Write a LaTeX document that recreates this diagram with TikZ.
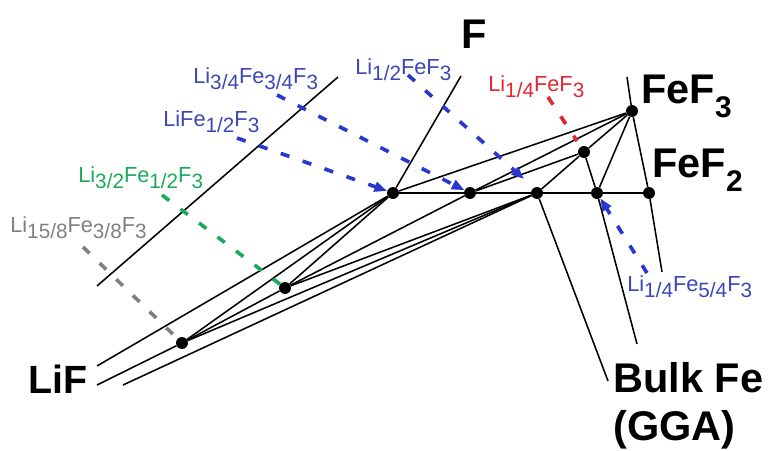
\documentclass[tikz,border=0pt]{standalone}
\usepackage{fontspec}
\setmainfont{Liberation Sans}
\usetikzlibrary{arrows.meta}
\definecolor{phblue}{RGB}{40,55,205}
\definecolor{lblue}{RGB}{60,70,180}
\definecolor{phgreen}{RGB}{25,170,90}
\definecolor{phred}{RGB}{228,38,52}
\definecolor{phgray}{RGB}{128,128,128}
\newcommand{\smsub}[1]{\raisebox{-0.3em}{\scalebox{0.95}{#1}}}
\newcommand{\bgsub}[1]{\raisebox{-0.36em}{\scalebox{0.72}{#1}}}
\tikzset{
  pdot/.style={circle, fill=black, inner sep=0pt, minimum size=8.5pt},
  tie/.style={black, line width=1.1pt},
  biglab/.style={font=\fontsize{29.5}{32}\selectfont\bfseries, inner sep=0pt, anchor=base west},
  cmplab/.style={font=\fontsize{15.5}{18}\selectfont, inner sep=0pt, anchor=base west},
  dln/.style={line width=2.6pt, dash pattern=on 6.5pt off 10pt},
  darr/.style={dln, -{Triangle[length=9pt,width=7pt]}},
}

\begin{document}
\begin{tikzpicture}[x=0.025cm, y=-0.025cm]
  \useasboundingbox (0,0) rectangle (772,450);
  % phase points
  \node[pdot] (li15) at (182,343) {};
  \node[pdot] (li32) at (285,288) {};
  \node[pdot] (li1) at (393,193) {};
  \node[pdot] (li34) at (470,193) {};
  \node[pdot] (li12) at (537,193) {};
  \node[pdot] (li54) at (597,193) {};
  \node[pdot] (fef2) at (649,193) {};
  \node[pdot] (mid) at (584,152) {};
  \node[pdot] (fef3) at (632,111) {};
  % free ends
  \coordinate (lifa) at (97,366);
  \coordinate (lifb) at (97,385);
  \coordinate (lifc) at (123,385);
  \coordinate (ftop) at (461,76);
  \coordinate (fetop) at (627,77);
  \coordinate (feend) at (662,272);
  \coordinate (fea) at (608,381);
  \coordinate (feb) at (637,344);
  \coordinate (lb1) at (97,286);
  \coordinate (lb2) at (338,77);
  % tie lines
  \draw[tie] (lb1) -- (lb2);
  \draw[tie] (lifa) -- (li1);
  \draw[tie] (lifb) -- (li15) -- (li32) -- (li34) -- (fef3);
  \draw[tie] (lifc) -- (li12);
  \draw[tie] (li15) -- (li1);
  \draw[tie] (li15) -- (li12);
  \draw[tie] (li32) -- (li1);
  \draw[tie] (li32) -- (li12);
  \draw[tie] (ftop) -- (li1);
  \draw[tie] (li1) -- (fef3);
  \draw[tie] (li1) -- (li34) -- (li12) -- (li54) -- (fef2);
  \draw[tie] (li34) -- (mid);
  \draw[tie] (li12) -- (mid);
  \draw[tie] (mid) -- (fef3);
  \draw[tie] (mid) -- (li54) -- (feb);
  \draw[tie] (li54) -- (fef3);
  \draw[tie] (li12) -- (fea);
  \draw[tie] (fetop) -- (fef3) -- (fef2) -- (feend);
  % end labels
  \node[biglab] (flab) at (461,48) {F};
  \node[biglab] (fef3lab) at (641,103) {FeF\bgsub{3}};
  \node[biglab] (fef2lab) at (652,177) {FeF\bgsub{2}};
  \node[biglab] (bulklab) at (613,392) {Bulk Fe};
  \node[biglab] (ggalab) at (613,440) {(GGA)};
  \node[biglab, font=\fontsize{28}{32}\selectfont\bfseries] (liflab) at (28,393) {LiF};
  % compositions
  \node[cmplab, text=lblue] (l34) at (193,83) {Li\smsub{3/4}Fe\smsub{3/4}F\smsub{3}};
  \node[cmplab, text=lblue] (l12) at (355,74) {Li\smsub{1/2}FeF\smsub{3}};
  \node[cmplab, text=lblue] (l1) at (163,126) {LiFe\smsub{1/2}F\smsub{3}};
  \node[cmplab, text=phgreen] (l32) at (78,182) {Li\smsub{3/2}Fe\smsub{1/2}F\smsub{3}};
  \node[cmplab, text=phgray] (l158) at (10,232) {Li\smsub{15/8}Fe\smsub{3/8}F\smsub{3}};
  \node[cmplab, text=phred] (l14) at (488,91) {Li\smsub{1/4}FeF\smsub{3}};
  \node[cmplab, text=lblue] (l54) at (627,291) {Li\smsub{1/4}Fe\smsub{5/4}F\smsub{3}};
  \coordinate (s34) at (277,95);
  \coordinate (s12) at (408,75);
  \coordinate (e12) at (524,179);
  \coordinate (s1) at (237,138);
  \coordinate (s32) at (162,195);
  \coordinate (s158) at (83,247);
  \coordinate (s14) at (548,97);
  \coordinate (e14) at (577,141);
  \coordinate (s54) at (647,273);
  \draw[darr, phblue] (s34) -- (li34);
  \draw[darr, phblue] (s12) -- (e12);
  \draw[darr, phblue] (s1) -- (li1);
  \draw[darr, phblue] (s54) -- (li54);
  \draw[dln, phgreen] (s32) -- (li32);
  \draw[dln, phgray] (s158) -- (li15);
  \draw[dln, phred] (s14) -- (e14);
\end{tikzpicture}
\end{document}
